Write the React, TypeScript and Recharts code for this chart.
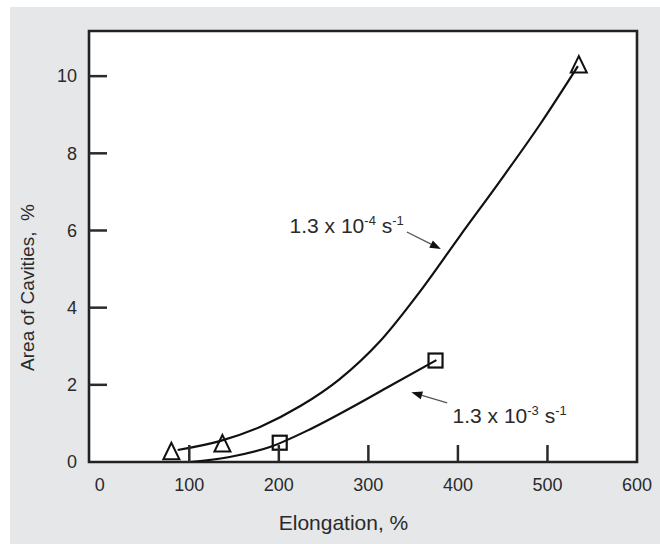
import React from "react";
import {
  ComposedChart,
  Line,
  Scatter,
  XAxis,
  YAxis,
  CartesianGrid,
  ReferenceArea,
  ReferenceDot,
  ReferenceLine,
  Label,
} from "recharts";

// axis ticks
const elongationTicks = [0, 100, 200, 300, 400, 500, 600];
const areaTicks = [0, 2, 4, 6, 8, 10];

// measured points, 1.3 x 10^-4 s^-1 (triangles)
const slowElong = [80, 137, 535];
const slowArea = [0.28, 0.48, 10.3];

// measured points, 1.3 x 10^-3 s^-1 (squares)
const fastElong = [201, 375];
const fastArea = [0.5, 2.63];

// fitted curves
const slowCurveElong = [87, 134, 179, 224, 268, 313, 358, 402, 447, 492, 534];
const slowCurveArea = [0.31, 0.54, 0.91, 1.45, 2.15, 3.13, 4.43, 5.85, 7.28, 8.76, 10.26];
const fastCurveElong = [101, 145, 190, 235, 280, 324, 376];
const fastCurveArea = [0, 0.13, 0.39, 0.85, 1.4, 1.97, 2.64];

const X_MIN = -12;
const X_MAX = 600;
const Y_MAX = 11.17;

// plot box in page pixels
const LEFT = 89;
const TOP = 31;
const RIGHT = 637;
const BOTTOM = 462;
const W = 660;
const H = 544;

const FONT = "'Liberation Sans', Arial, Helvetica, sans-serif";
const INK = "#2a2a2a";

const toPoints = (xs: number[], ys: number[]) => xs.map((x, i) => ({ x, y: ys[i] }));

const slowPoints = toPoints(slowElong, slowArea);
const fastPoints = toPoints(fastElong, fastArea);
const slowCurve = toPoints(slowCurveElong, slowCurveArea);
const fastCurve = toPoints(fastCurveElong, fastCurveArea);

const XTick = (props: any) => {
  const { x, payload } = props;
  const v = payload.value;
  return (
    <g>
      {v > 0 && v < 600 && (
        <line x1={x} y1={BOTTOM} x2={x} y2={BOTTOM - 17} stroke={INK} strokeWidth={2.5} />
      )}
      <text x={x} y={BOTTOM + 23} dy="0.35em" textAnchor="middle" fontSize={18} fontFamily={FONT} fill={INK}>
        {v}
      </text>
    </g>
  );
};

const YTick = (props: any) => {
  const { y, payload } = props;
  const v = payload.value;
  return (
    <g>
      {v > 0 && <line x1={LEFT} y1={y} x2={LEFT + 18} y2={y} stroke={INK} strokeWidth={2.5} />}
      <text x={LEFT - 12} y={y} dy="0.35em" textAnchor="end" fontSize={18} fontFamily={FONT} fill={INK}>
        {v}
      </text>
    </g>
  );
};

const Triangle = (props: any) => {
  const { cx, cy } = props;
  return (
    <polygon
      points={`${cx},${cy - 8.5} ${cx - 8},${cy + 8} ${cx + 8},${cy + 8}`}
      fill="none"
      stroke="#111"
      strokeWidth={2}
    />
  );
};

const Square = (props: any) => {
  const { cx, cy } = props;
  return <rect x={cx - 7} y={cy - 7} width={14} height={14} fill="none" stroke="#111" strokeWidth={2.2} />;
};

const rateLabel = (exp: string) => (props: any) => {
  const { cx, cy } = props;
  return (
    <text x={cx} y={cy} fontSize={21} fontFamily={FONT} fill={INK}>
      1.3 x 10
      <tspan dy={-8} fontSize={13}>
        {exp}
      </tspan>
      <tspan dy={8} fontSize={21}>
        {"\u00a0s"}
      </tspan>
      <tspan dy={-8} fontSize={13}>
        -1
      </tspan>
    </text>
  );
};

const Arrow = (props: any) => {
  const { x1, y1, x2, y2 } = props;
  const ang = Math.atan2(y2 - y1, x2 - x1);
  const len = 11;
  const half = 4;
  const bx = x2 - len * Math.cos(ang);
  const by = y2 - len * Math.sin(ang);
  const px = -Math.sin(ang) * half;
  const py = Math.cos(ang) * half;
  return (
    <g>
      <line x1={x1} y1={y1} x2={bx} y2={by} stroke="#555" strokeWidth={1.3} />
      <polygon points={`${x2},${y2} ${bx + px},${by + py} ${bx - px},${by - py}`} fill="#111" />
    </g>
  );
};

const XTitle = () => (
  <text x={(LEFT + RIGHT) / 2 - 19.5} y={BOTTOM + 68} textAnchor="middle" fontSize={21} fontFamily={FONT} fill={INK}>
    Elongation, %
  </text>
);

const YTitle = () => {
  const cx = 27;
  const cy = (TOP + BOTTOM) / 2 + 41;
  return (
    <text
      x={cx}
      y={cy}
      dy="0.35em"
      transform={`rotate(-90 ${cx} ${cy})`}
      textAnchor="middle"
      fontSize={19}
      fontFamily={FONT}
      fill={INK}
    >
      {"Area of Cavities,\u00a0 %"}
    </text>
  );
};

export default function App() {
  return (
    <div style={{ position: "absolute", left: 0, top: 0, width: W, height: H }}>
      <div style={{ position: "absolute", left: 10, top: 7, width: W - 10, height: H - 7, background: "#e6e7e9" }} />
      <div style={{ position: "absolute", left: 0, top: 0 }}>
        <ComposedChart width={W} height={H} margin={{ top: TOP, right: W - RIGHT, bottom: 0, left: 0 }}>
          <CartesianGrid horizontal={false} vertical={false} fill="#ffffff" />
          <XAxis
            type="number"
            dataKey="x"
            domain={[X_MIN, X_MAX]}
            ticks={elongationTicks}
            allowDataOverflow
            height={H - BOTTOM}
            tickSize={0}
            tickMargin={0}
            tickLine={false}
            axisLine={false}
            tick={<XTick />}
            interval={0}
          >
            <Label content={<XTitle />} />
          </XAxis>
          <YAxis
            type="number"
            dataKey="y"
            domain={[0, Y_MAX]}
            ticks={areaTicks}
            allowDataOverflow
            width={LEFT}
            tickSize={0}
            tickMargin={0}
            tickLine={false}
            axisLine={false}
            tick={<YTick />}
            interval={0}
          >
            <Label content={<YTitle />} />
          </YAxis>
          <ReferenceArea x1={X_MIN} x2={X_MAX} y1={0} y2={Y_MAX} fill="none" stroke="#222" strokeWidth={2.6} />
          <Line
            data={slowCurve}
            dataKey="y"
            type="monotone"
            stroke="#111"
            strokeWidth={2.2}
            dot={false}
            activeDot={false}
            isAnimationActive={false}
          />
          <Line
            data={fastCurve}
            dataKey="y"
            type="monotone"
            stroke="#111"
            strokeWidth={2.2}
            dot={false}
            activeDot={false}
            isAnimationActive={false}
          />
          <Scatter data={slowPoints} dataKey="y" shape={<Triangle />} isAnimationActive={false} />
          <Scatter data={fastPoints} dataKey="y" shape={<Square />} isAnimationActive={false} />
          <ReferenceLine segment={[{ x: 343, y: 5.96 }, { x: 381, y: 5.52 }]} shape={<Arrow />} />
          <ReferenceLine segment={[{ x: 388, y: 1.53 }, { x: 348, y: 1.81 }]} shape={<Arrow />} />
          <ReferenceDot x={212} y={5.93} r={0} shape={rateLabel("-4")} />
          <ReferenceDot x={394} y={1.01} r={0} shape={rateLabel("-3")} />
        </ComposedChart>
      </div>
    </div>
  );
}
